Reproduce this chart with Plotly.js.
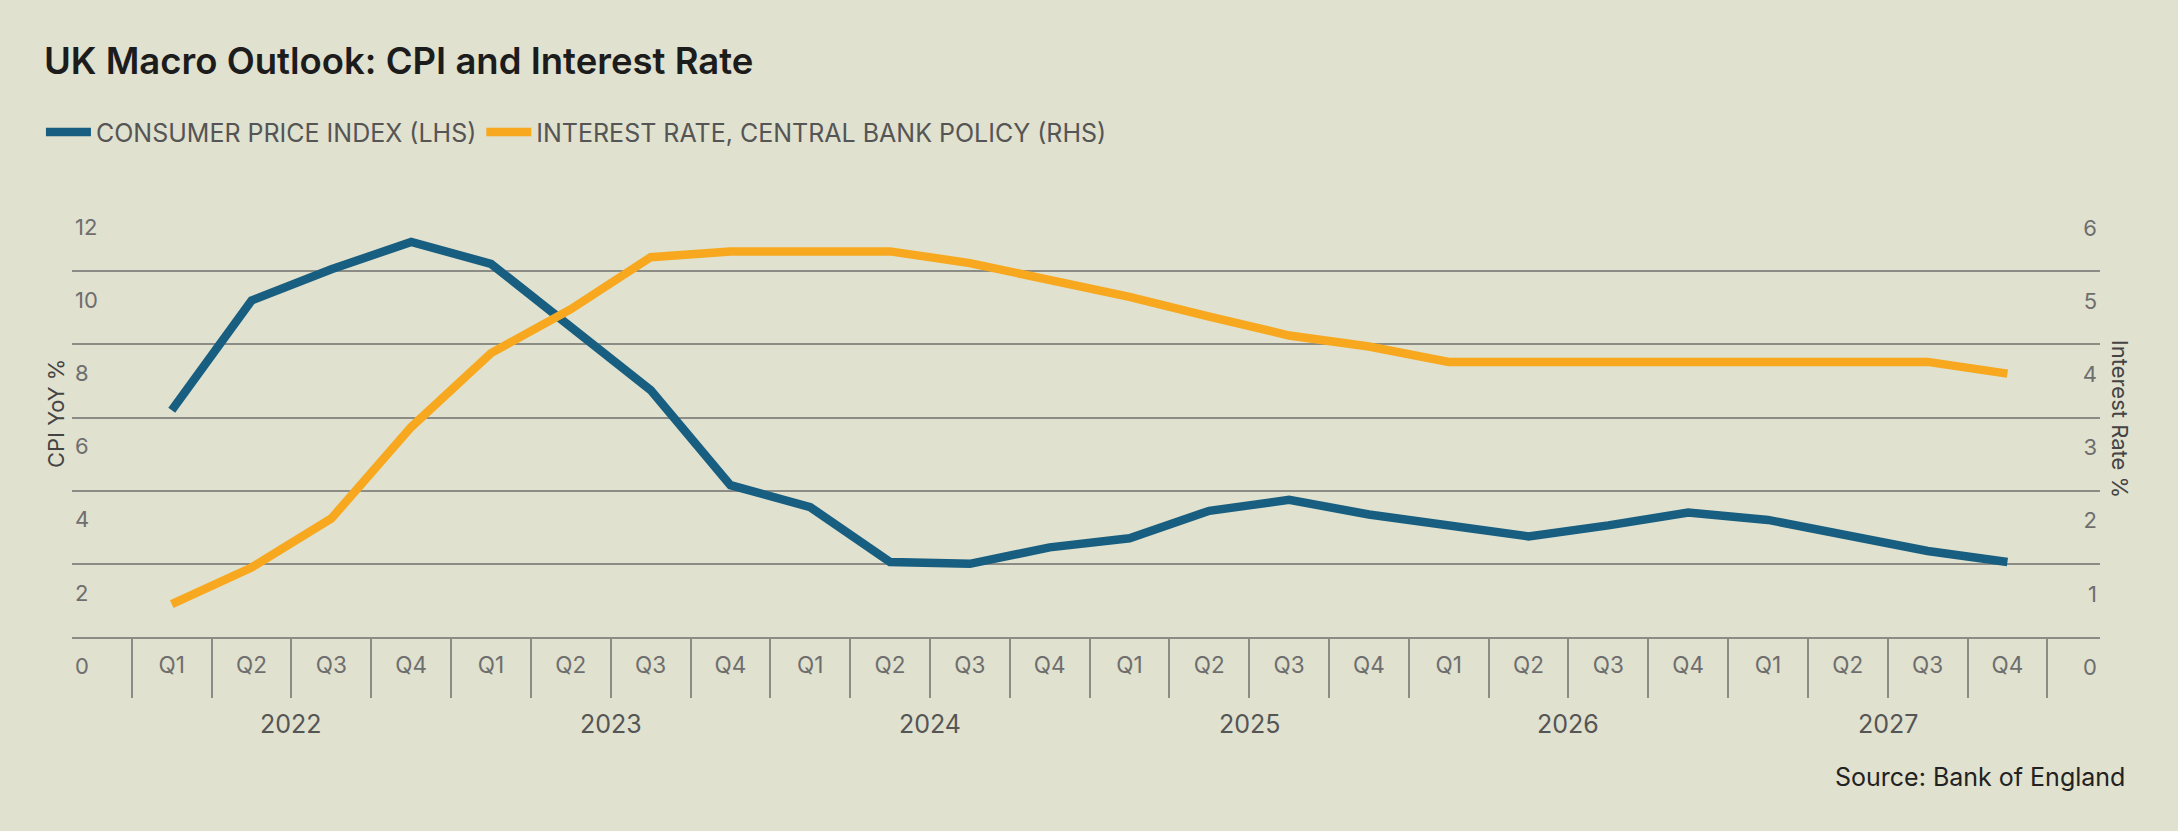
<!DOCTYPE html>
<html>
<head>
<meta charset="utf-8">
<script src="https://cdn.plot.ly/plotly-3.0.1.min.js"></script>
<style>
  body { margin: 0; background: #e0e1ce; }
  #chart { width: 2178px; height: 831px; }
</style>
</head>
<body>
<div id="chart"></div>
<script>
// quarters 2022 Q1 .. 2027 Q4
var years = ['2022', '2023', '2024', '2025', '2026', '2027'];
var quarters = ['Q1', 'Q2', 'Q3', 'Q4'];

// CPI YoY % (LHS)
var cpi = [6.2, 9.2, 10.05, 10.8, 10.2, 8.5, 6.75, 4.15, 3.55, 2.05, 2.0, 2.45,
           2.7, 3.45, 3.75, 3.35, 3.05, 2.75, 3.05, 3.4, 3.2, 2.75, 2.35, 2.05];
// Bank Rate % (RHS)
var rate = [0.45, 0.95, 1.62, 2.87, 3.88, 4.48, 5.19, 5.27, 5.27, 5.27, 5.11, 4.88,
            4.65, 4.38, 4.12, 3.97, 3.76, 3.76, 3.76, 3.76, 3.76, 3.76, 3.76, 3.6];

var cpiTicks = [0, 2, 4, 6, 8, 10, 12];
var rateTicks = [0, 1, 2, 3, 4, 5, 6];

var xs = [], qText = [], sepVals = [], yearVals = [];
for (var i = 0; i < years.length * quarters.length; i++) {
  xs.push(i);
  qText.push(quarters[i % 4]);
  sepVals.push(i - 0.5);
}
sepVals.push(years.length * quarters.length - 0.5);
for (var j = 0; j < years.length; j++) yearVals.push(j * 4 + 1.5);

var BG = '#e0e1ce';
var GRID = '#8c8c86';
var FONT = 'Inter, Roboto, sans-serif';
var xr = [-1.25, 24.16];

var traceCpi = {
  x: xs, y: cpi, type: 'scatter', mode: 'lines',
  name: 'CONSUMER PRICE INDEX (LHS)',
  line: {color: '#185e80', width: 8.5},
  hoverinfo: 'skip'
};
var traceRate = {
  x: xs, y: rate, type: 'scatter', mode: 'lines', yaxis: 'y2',
  name: 'INTEREST RATE, CENTRAL BANK POLICY (RHS)',
  line: {color: '#f7a81f', width: 8.5},
  hoverinfo: 'skip'
};

// year labels under each group of four quarters
var yearNotes = years.map(function (yr, k) {
  return {text: yr, xref: 'x', yref: 'paper', x: yearVals[k], y: -0.199,
          xanchor: 'center', yanchor: 'middle', showarrow: false,
          font: {family: FONT, size: 25, color: '#555'}};
});

var layout = {
  width: 2178, height: 831,
  paper_bgcolor: BG, plot_bgcolor: BG,
  margin: {l: 72, r: 78, t: 198, b: 194, pad: 0},
  font: {family: FONT, color: '#555'},
  title: {
    text: 'UK Macro Outlook: CPI and Interest Rate',
    font: {family: FONT, size: 36.5, weight: 600, color: '#1c1c1c'},
    xref: 'container', yref: 'container',
    x: 0.0202, xanchor: 'left', y: 0.926, yanchor: 'middle'
  },
  showlegend: true,
  legend: {
    orientation: 'h', xref: 'container', yref: 'container',
    x: 0.0188, xanchor: 'left', y: 0.841, yanchor: 'middle',
    font: {family: FONT, size: 25, color: '#555'},
    bgcolor: 'rgba(0,0,0,0)', itemwidth: 45
  },
  xaxis: {
    range: xr, showgrid: false, zeroline: false,
    showline: true, linecolor: GRID, linewidth: 2,
    tickmode: 'array', tickvals: xs, ticktext: qText, ticks: '',
    tickfont: {family: FONT, size: 22.5, color: '#6e6e6e'},
    ticklabelstandoff: 7,
    minor: {tickmode: 'array', tickvals: sepVals, ticks: 'outside',
            ticklen: 59, tickwidth: 2, tickcolor: GRID, showgrid: false}
  },
  yaxis: {
    range: [0, 12], tickmode: 'array', tickvals: cpiTicks,
    showgrid: true, gridcolor: GRID, gridwidth: 2,
    zeroline: false, showline: false, ticks: '',
    ticklabelposition: 'inside', ticklabelshift: 29, ticklabeloverflow: 'allow',
    tickfont: {family: FONT, size: 22, color: '#6e6e6e'}
  },
  yaxis2: {
    overlaying: 'y', side: 'right', range: [0, 6],
    tickmode: 'array', tickvals: rateTicks,
    showgrid: false, zeroline: false, showline: false, ticks: '',
    ticklabelposition: 'inside', ticklabelshift: 30, ticklabeloverflow: 'allow',
    tickfont: {family: FONT, size: 22, color: '#6e6e6e'}
  },
  annotations: [
    {text: 'CPI YoY %', textangle: -90, xref: 'paper', yref: 'paper',
     x: -0.0079, y: 0.51, xanchor: 'center', yanchor: 'middle', showarrow: false,
     font: {family: FONT, size: 22, color: '#444'}},
    {text: 'Interest Rate %', textangle: 90, xref: 'paper', yref: 'paper',
     x: 1.0099, y: 0.497, xanchor: 'center', yanchor: 'middle', showarrow: false,
     font: {family: FONT, size: 22, color: '#444'}},
    {text: 'Source: Bank of England', xref: 'paper', yref: 'paper',
     x: 1.0133, y: -0.319, xanchor: 'right', yanchor: 'middle', showarrow: false,
     font: {family: FONT, size: 25, color: '#222'}}
  ].concat(yearNotes)
};

Plotly.newPlot('chart', [traceCpi, traceRate], layout, {staticPlot: true, displayModeBar: false});
</script>
</body>
</html>
